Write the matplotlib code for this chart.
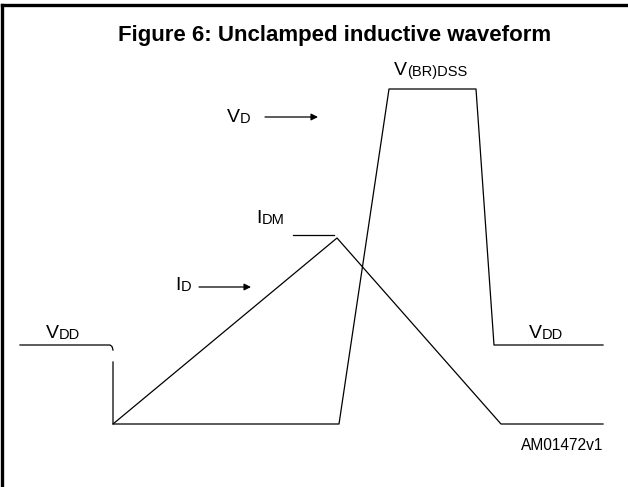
import numpy as np
import matplotlib
matplotlib.use("Agg")
from matplotlib import pyplot as plt

plt.rcParams['font.family'] = ['Liberation Sans', 'DejaVu Sans']

# waveform points, drawing units (x = time, y grows downwards)
vd_t = [20, 110, 112, 113, np.nan, 113, 113, 339, 389, 476, 494, 603]
vd_v = [345, 345, 346.5, 350, np.nan, 362, 424, 424, 89, 89, 345, 345]

id_t = [113, 337, 501, 603]
id_v = [424, 238, 424, 424]

idm_t = [293, 334]
idm_v = [235, 235]


def two_size_label(ax, x, y, big, small, big_size=14, small_size=10.5):
    t = ax.text(x, y, big, fontsize=big_size, va='baseline', ha='left')
    ax.annotate(small, xy=(1, 0), xycoords=t, fontsize=small_size,
                va='bottom', ha='left')


fig = plt.figure(figsize=(6.28, 4.87), dpi=100)
ax = fig.add_axes([0, 0, 1, 1])
ax.set_xlim(0, 628)
ax.set_ylim(487, 0)
ax.axis('off')

# frame (only left and top edges are inside the picture)
ax.axvline(2, ymin=0, ymax=1 - 5 / 487, color='black', lw=2.4)
ax.axhline(5, xmin=2 / 628, xmax=1, color='black', lw=2.4)

ax.text(335, 41, "Figure 6: Unclamped inductive waveform", fontsize=16,
        fontweight='bold', ha='center', va='baseline')

ax.plot(vd_t, vd_v, color='black', lw=0.9)
ax.plot(id_t, id_v, color='black', lw=0.9)
ax.plot(idm_t, idm_v, color='black', lw=0.9)

two_size_label(ax, 46, 338, "V", "DD")
two_size_label(ax, 529, 338, "V", "DD")
two_size_label(ax, 394, 75, "V", "(BR)DSS")
two_size_label(ax, 227, 122, "V", "D")
two_size_label(ax, 256, 223, "I", "DM")
two_size_label(ax, 175, 290, "I", "D")

arrow = dict(arrowstyle='-|>', lw=0.9, color='black', mutation_scale=10,
             shrinkA=0, shrinkB=0)
ax.annotate("", xy=(318, 117), xytext=(265, 117), arrowprops=arrow)
ax.annotate("", xy=(251, 287), xytext=(199, 287), arrowprops=arrow)

ax.text(603, 450, "AM01472v1", fontsize=11.2, ha='right', va='baseline')

fig.savefig("out.png", dpi=100)
